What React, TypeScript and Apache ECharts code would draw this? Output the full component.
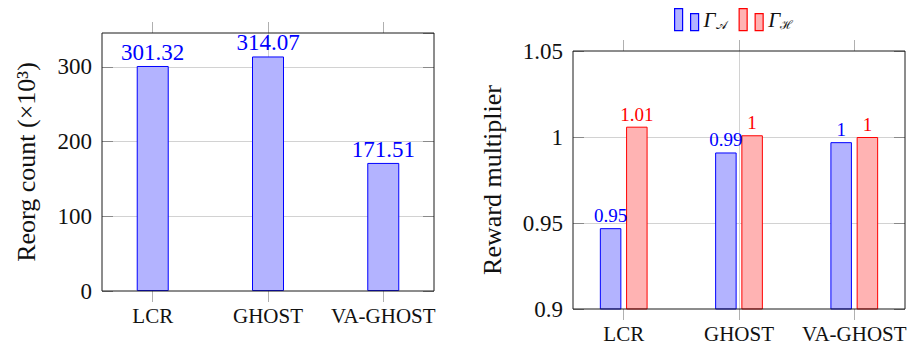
import React, { useEffect, useRef } from "react";
import * as echarts from "echarts";

const categories = ["LCR", "GHOST", "VA-GHOST"];
const reorgCounts = [301.32, 314.07, 171.51];
const rewardA = [0.947, 0.991, 0.997];
const rewardH = [1.006, 1.001, 1.0];
const seriesNames = ["Γ𝒜", "Γℋ"];
const categoryPositions = [0, 1, 2];

const FONT = "Liberation Serif";
const BLUE = "#0000ff";
const RED = "#ff0000";
const BLUE_FILL = "#b3b3ff";
const RED_FILL = "#ffb3b3";

function gridLine() {
  return { show: true, showMinLine: false, showMaxLine: false, lineStyle: { color: "#d2d2d2", width: 1 } };
}

function xAxisPair(gridIndex: number) {
  return [
    {
      type: "value",
      gridIndex,
      min: -0.44,
      max: 2.44,
      position: "bottom",
      axisLine: { show: false, onZero: false },
      axisTick: {
        show: true,
        customValues: categoryPositions,
        length: 11,
        lineStyle: { color: "#b0b0b0", width: 1 },
      },
      axisLabel: {
        customValues: categoryPositions,
        formatter: (v: number) => categories[Math.round(v)] ?? "",
        fontFamily: FONT,
        fontSize: 21,
        color: "#111",
        margin: 14,
      },
      splitLine: gridLine(),
    },
    {
      type: "value",
      gridIndex,
      min: -0.44,
      max: 2.44,
      position: "top",
      axisLine: { show: false, onZero: false },
      axisTick: {
        show: true,
        customValues: categoryPositions,
        length: 11,
        lineStyle: { color: "#b0b0b0", width: 1 },
      },
      axisLabel: { show: false },
      splitLine: { show: false },
    },
  ];
}

function yAxisPair(
  gridIndex: number,
  min: number,
  max: number,
  interval: number,
  name: string,
  nameGap: number,
  showMax: boolean
) {
  return [
    {
      type: "value",
      gridIndex,
      min,
      max,
      interval,
      position: "left",
      name,
      nameLocation: "middle",
      nameRotate: 90,
      nameGap,
      nameTextStyle: { fontFamily: FONT, fontSize: 26, color: "#111" },
      axisLine: { show: false, onZero: false },
      axisTick: { show: true, inside: true, length: 11, lineStyle: { color: "#8a8a8a" } },
      axisLabel: {
        fontFamily: FONT,
        fontSize: 23,
        color: "#111",
        margin: 10,
        showMaxLabel: showMax,
      },
      splitLine: gridLine(),
    },
    {
      type: "value",
      gridIndex,
      min,
      max,
      interval,
      position: "right",
      axisLine: { show: false, onZero: false },
      axisTick: { show: true, inside: true, length: 11, lineStyle: { color: "#8a8a8a" } },
      axisLabel: { show: false },
      splitLine: { show: false },
    },
  ];
}

export default function App() {
  const ref = useRef<HTMLDivElement>(null);

  useEffect(() => {
    if (!ref.current) return;
    const chart = echarts.init(ref.current, null, { renderer: "svg" });
    const option: any = {
      animation: false,
      backgroundColor: "#ffffff",
      textStyle: { fontFamily: FONT },
      grid: [
        { left: 102, right: 477, top: 33, bottom: 57, show: true, z: 10, backgroundColor: "transparent", borderColor: "#1a1a1a", borderWidth: 1 },
        { left: 573, right: 6, top: 51, bottom: 39, show: true, z: 10, backgroundColor: "transparent", borderColor: "#1a1a1a", borderWidth: 1 },
      ],
      legend: {
        left: 674,
        top: 8,
        padding: 0,
        itemWidth: 24,
        itemHeight: 22,
        itemGap: 12,
        selectedMode: false,
        data: [
          { name: seriesNames[0], icon: "path://M0,0H8V22H0Z M16,5H24V22H16Z", itemStyle: { color: BLUE_FILL, borderColor: BLUE, borderWidth: 1.2 } },
          { name: seriesNames[1], icon: "path://M0,0H8V22H0Z M16,5H24V22H16Z", itemStyle: { color: RED_FILL, borderColor: RED, borderWidth: 1.2 } },
        ],
        formatter: (n: string) => `{g|Γ}{s|${n.slice(1)}}`,
        textStyle: {
          fontFamily: FONT,
          color: "#111",
          rich: {
            g: { fontFamily: FONT, fontSize: 21, fontStyle: "italic", color: "#111", lineHeight: 22, verticalAlign: "bottom" },
            s: { fontFamily: "DejaVu Serif", fontSize: 12, color: "#111", lineHeight: 22, verticalAlign: "bottom", padding: [6, 0, 0, 0] },
          },
        },
      },
      xAxis: [...xAxisPair(0), ...xAxisPair(1)],
      yAxis: [
        ...yAxisPair(0, 0, 345.5, 100, "Reorg count (×10³)", 63, false),
        ...yAxisPair(1, 0.9, 1.05, 0.05, "Reward multiplier", 68, true),
      ],
      series: [
        {
          type: "bar",
          name: "Reorg count",
          xAxisIndex: 0,
          yAxisIndex: 0,
          data: reorgCounts.map((v, i) => [categoryPositions[i], v]),
          barWidth: 32,
          itemStyle: { color: BLUE_FILL, borderColor: BLUE, borderWidth: 1 },
          label: {
            show: true,
            position: "top",
            distance: 2,
            formatter: (p: any) => p.value[1].toFixed(2),
            fontFamily: FONT,
            fontSize: 23,
            color: BLUE,
          },
        },
        {
          type: "bar",
          name: seriesNames[0],
          xAxisIndex: 2,
          yAxisIndex: 2,
          data: rewardA.map((v, i) => [categoryPositions[i], v]),
          barWidth: 21.5,
          barGap: "22%",
          clip: true,
          itemStyle: { color: BLUE_FILL, borderColor: BLUE, borderWidth: 1 },
          label: {
            show: true,
            position: "top",
            distance: 3,
            formatter: (p: any) => String(parseFloat(p.value[1].toFixed(2))),
            fontFamily: FONT,
            fontSize: 19,
            color: BLUE,
          },
        },
        {
          type: "bar",
          name: seriesNames[1],
          xAxisIndex: 2,
          yAxisIndex: 2,
          data: rewardH.map((v, i) => [categoryPositions[i], v]),
          barWidth: 21.5,
          barGap: "22%",
          clip: true,
          itemStyle: { color: RED_FILL, borderColor: RED, borderWidth: 1 },
          label: {
            show: true,
            position: "top",
            distance: 3,
            formatter: (p: any) => String(parseFloat(p.value[1].toFixed(2))),
            fontFamily: FONT,
            fontSize: 19,
            color: RED,
          },
        },
      ],
    };
    chart.setOption(option);
    return () => chart.dispose();
  }, []);

  return (
    <div
      ref={ref}
      style={{ position: "fixed", left: 0, top: 0, width: 911, height: 348, background: "#fff" }}
    />
  );
}
